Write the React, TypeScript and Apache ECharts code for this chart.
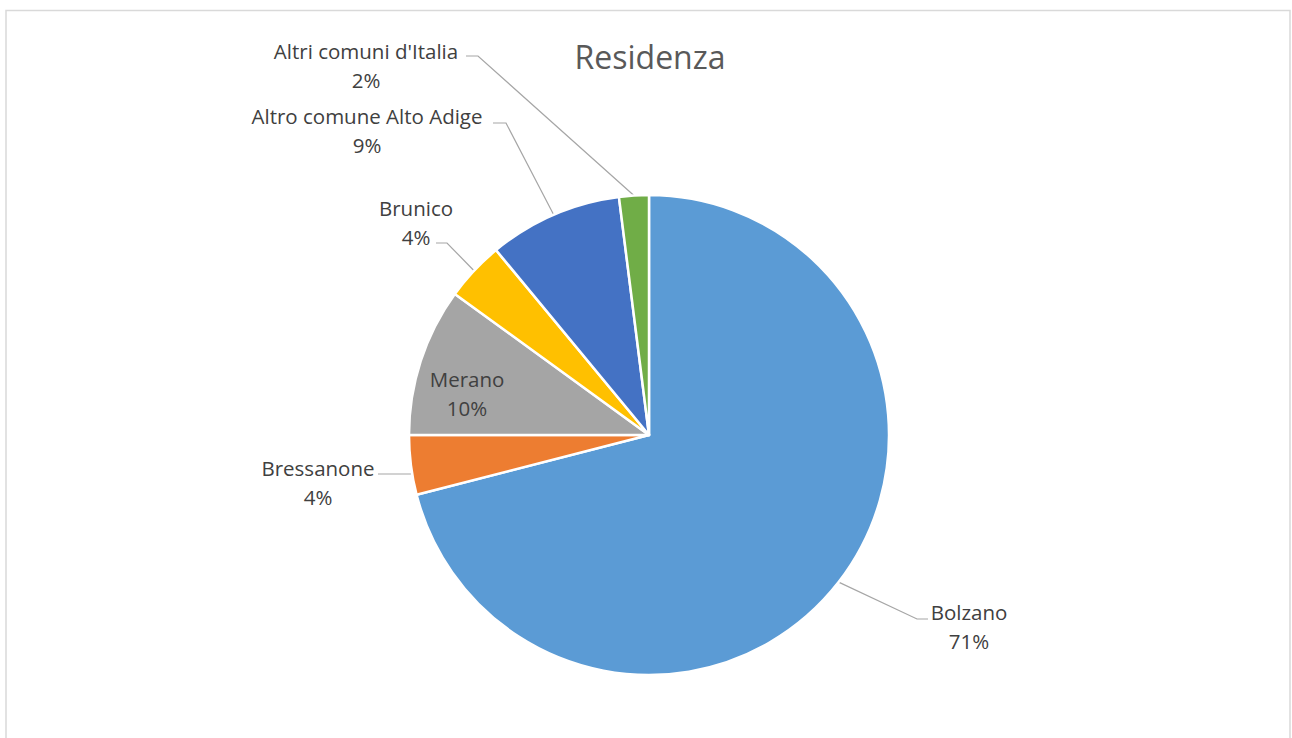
import React, { useEffect, useRef } from "react";
import * as echarts from "echarts";

const categories = [
  "Bolzano",
  "Bressanone",
  "Merano",
  "Brunico",
  "Altro comune Alto Adige",
  "Altri comuni d'Italia",
];
const values = [71, 4, 10, 4, 9, 2];
const colors = ["#5B9BD5", "#ED7D31", "#A5A5A5", "#FFC000", "#4472C4", "#70AD47"];
const titleText = "Residenza";

// label placement (block centre) and label line bend/end points, per slice
const labelPos: { x: number; y: number; bend?: number[]; end?: number[]; flat?: boolean }[] = [
  { x: 969, y: 626, bend: [917, 619], end: [928, 619] },
  { x: 318, y: 482, end: [378, 474], flat: true },
  { x: 467, y: 393 },
  { x: 416, y: 222, bend: [447, 243], end: [436, 243] },
  { x: 367, y: 130, bend: [506, 123], end: [493, 123] },
  { x: 366, y: 65, bend: [478, 56], end: [466, 56] },
];

export default function App() {
  const ref = useRef<HTMLDivElement>(null);
  useEffect(() => {
    if (!ref.current) return;
    const chart = echarts.init(ref.current, null, { renderer: "svg" });
    const data = categories.map((name, i) => ({
      name,
      value: values[i],
      itemStyle: { color: colors[i] },
      ...(name === "Merano"
        ? { label: { position: "inside" }, labelLine: { show: false } }
        : {}),
    }));
    chart.setOption({
      animation: false,
      backgroundColor: "#ffffff",
      title: {
        text: titleText,
        left: 645,
        textAlign: "center",
        top: 35,
        textStyle: {
          fontFamily: "Open Sans",
          fontSize: 32,
          fontWeight: "normal",
          color: "#595959",
        },
      },
      graphic: [
        {
          type: "rect",
          shape: { x: 6, y: 10.5, width: 1284, height: 800 },
          style: { fill: "none", stroke: "#D9D9D9", lineWidth: 1.5 },
          silent: true,
        },
      ],
      series: [
        {
          type: "pie",
          center: [649, 435],
          radius: 240,
          startAngle: 90,
          clockwise: true,
          avoidLabelOverlap: false,
          itemStyle: { borderColor: "#ffffff", borderWidth: 2.5 },
          label: {
            show: true,
            position: "outside",
            formatter: (p: any) => `${p.name}\n${Math.round(p.percent)}%`,
            fontFamily: "Open Sans",
            fontSize: 20.5,
            lineHeight: 29,
            color: "#404040",
            align: "center",
          },
          labelLine: {
            show: true,
            length: 20,
            length2: 10,
            lineStyle: { color: "#A6A6A6", width: 1.2 },
          },
          labelLayout: (params: any) => {
            const lp = labelPos[params.dataIndex];
            const out: any = {
              x: lp.x,
              y: lp.y,
              align: "center",
              verticalAlign: "middle",
            };
            const pts = params.labelLinePoints;
            if (pts && pts.length && lp.end) {
              const start = pts[0];
              if (lp.flat) {
                out.labelLinePoints = [[start[0], lp.end[1]], lp.end];
              } else {
                out.labelLinePoints = [start, lp.bend, lp.end];
              }
            }
            return out;
          },
          data,
        },
      ],
    });
    return () => chart.dispose();
  }, []);
  return (
    <div
      ref={ref}
      style={{ position: "fixed", left: 0, top: 0, width: 1292, height: 738 }}
    />
  );
}
